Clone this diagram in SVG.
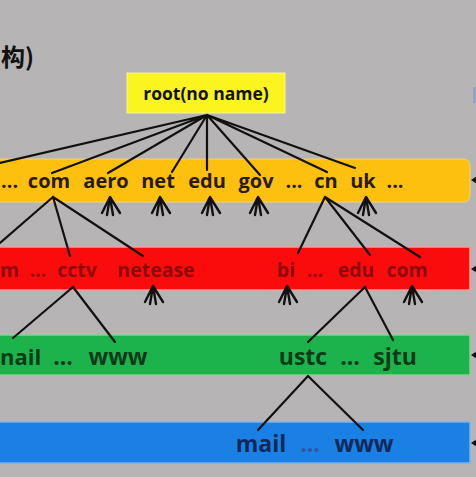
<svg xmlns="http://www.w3.org/2000/svg" width="476" height="477" viewBox="0 0 476 477">
<defs>
<style>
.lbl{font-family:"Open Sans","Liberation Sans",sans-serif;font-weight:700;text-anchor:middle}
.st{text-anchor:start}
.y{font-size:20px;fill:#2a1a0e}
.r{font-size:19.5px;fill:#8c0a0c}
.g{font-size:23px;fill:#0c3a19}
.b{font-size:23px;fill:#11295a}
.ln{stroke:#111;stroke-width:2.2;fill:none;stroke-linecap:round}
.fan{stroke:#111;stroke-width:2.4;fill:none;stroke-linecap:round}
.tip{fill:#111}
</style>
<g id="fanShape">
<path d="M0 0 L-8 16 M0 0 L-3 18 M0 0 L3 18 M0 0 L10 16"/>
</g>
</defs>
<rect x="0" y="0" width="476" height="477" fill="#b7b4b5"/>
<text x="1" y="66" font-family="Noto Sans CJK SC, sans-serif" font-weight="700" font-size="24" fill="#111">构)</text>
<rect x="473" y="87" width="3" height="16" fill="#8ea6c4"/>

<g id="band-yellow">
<rect x="-10" y="159" width="480" height="43" rx="6" fill="#fdc00f" stroke="#f3d36a" stroke-width="1"/>
</g>
<g id="band-red">
<rect x="-10" y="247" width="480" height="43" fill="#fb0c0c" stroke="#f79a9a" stroke-width="1.5"/>
</g>
<g id="band-green">
<rect x="-10" y="335" width="480" height="40" fill="#1db34c" stroke="#7fd48e" stroke-width="1.5"/>
</g>
<g id="band-blue">
<rect x="-10" y="422" width="480" height="41" fill="#1b80e3" stroke="#78b4ee" stroke-width="1.5"/>
</g>

<g id="connectors">
<path class="ln" d="M207 115 L0 163 M207 115 L52 173 M207 115 L108 173 M207 115 L172 172 M207 115 L207 170 M207 115 L260 175 M207 115 L327 172 M207 115 L355 168"/>
<path class="ln" d="M53 197 L0 243 M53 197 L70 256 M53 197 L143 256"/>
<path class="ln" d="M325 197 L298 253 M325 197 L370 255 M325 197 L420 257"/>
<path class="ln" d="M73 287 L13 338 M73 287 L115 342"/>
<path class="ln" d="M365 287 L308 342 M365 287 L393 340"/>
<path class="ln" d="M308 376 L258 430 M308 376 L363 430"/>
<g class="fan">
<use href="#fanShape" x="110" y="197"/>
<use href="#fanShape" x="160" y="197"/>
<use href="#fanShape" x="210" y="197"/>
<use href="#fanShape" x="258" y="197"/>
<use href="#fanShape" x="366" y="197"/>
<use href="#fanShape" x="153" y="286"/>
<use href="#fanShape" x="287" y="286"/>
<use href="#fanShape" x="412" y="286"/>
</g>
<polygon class="tip" points="471,180 477,176 477,184"/>
<polygon class="tip" points="471,269 477,265 477,273"/>
<polygon class="tip" points="471,355 477,351 477,359"/>
<polygon class="tip" points="471,443 477,439 477,447"/>
</g>

<g id="root">
<rect x="127" y="73" width="158" height="40" fill="#fbf41e" stroke="#f7f3a0" stroke-width="1"/>
<text class="lbl" x="206" y="100" font-size="17.5" fill="#111">root(no name)</text>
</g>

<g id="yellow-labels">
<text class="lbl y st" x="1" y="188">...</text>
<text class="lbl y" x="49" y="188">com</text>
<text class="lbl y" x="106" y="188">aero</text>
<text class="lbl y" x="158" y="188">net</text>
<text class="lbl y" x="207" y="188">edu</text>
<text class="lbl y" x="256" y="188">gov</text>
<text class="lbl y" x="294" y="188">...</text>
<text class="lbl y" x="326" y="188">cn</text>
<text class="lbl y" x="363" y="188">uk</text>
<text class="lbl y" x="395" y="188">...</text>
</g>
<g id="red-labels">
<text class="lbl r st" x="0" y="277">m</text>
<text class="lbl r" x="38" y="277">...</text>
<text class="lbl r" x="77" y="277">cctv</text>
<text class="lbl r" x="156" y="277">netease</text>
<text class="lbl r" x="286" y="277">bi</text>
<text class="lbl r" x="315" y="277">...</text>
<text class="lbl r" x="356" y="277">edu</text>
<text class="lbl r" x="407" y="277">com</text>
</g>
<g id="green-labels">
<text class="lbl g st" x="0" y="365" style="font-size:22px">nail</text>
<text class="lbl g" x="63" y="365">...</text>
<text class="lbl g" x="118" y="365">www</text>
<text class="lbl g" x="303" y="365">ustc</text>
<text class="lbl g" x="350" y="365">...</text>
<text class="lbl g" x="395" y="365">sjtu</text>
</g>
<g id="blue-labels">
<text class="lbl b" x="261" y="452">mail</text>
<text class="lbl b" x="310" y="452" style="fill:#2d56a8">...</text>
<text class="lbl b" x="364" y="452">www</text>
</g>
</svg>
